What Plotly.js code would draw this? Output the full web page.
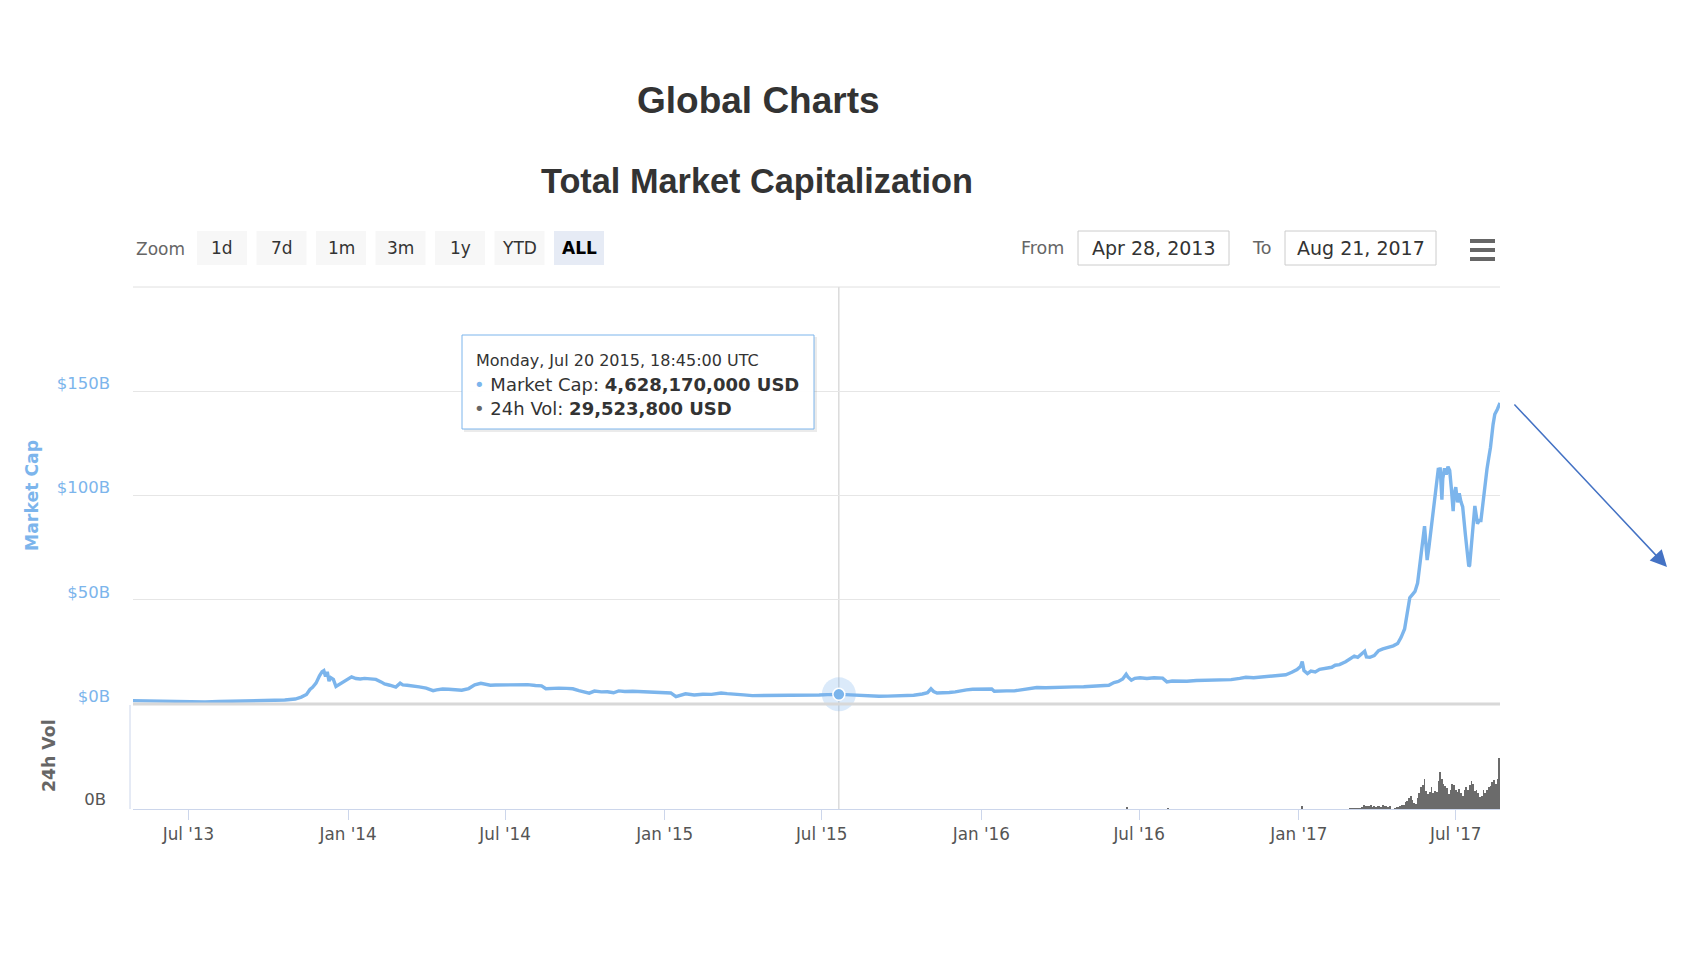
<!DOCTYPE html>
<html>
<head>
<meta charset="utf-8">
<script src="https://cdn.plot.ly/plotly-3.0.1.min.js"></script>
<style>html,body{margin:0;padding:0;background:#fff;}#chart{width:1686px;height:966px;}</style>
</head>
<body>
<div id="chart"></div>
<script>
// ---------------- DATA ----------------
const capDates = [
'2013-04-28','2013-05-10','2013-05-25','2013-06-10','2013-06-25','2013-07-05','2013-07-20','2013-08-05','2013-08-20','2013-09-05',
'2013-09-20','2013-10-05','2013-10-20','2013-11-01','2013-11-08','2013-11-14','2013-11-18','2013-11-21','2013-11-25','2013-11-29',
'2013-12-02','2013-12-04','2013-12-06','2013-12-08','2013-12-10','2013-12-12','2013-12-15','2013-12-18','2013-12-21','2013-12-25',
'2013-12-30','2014-01-05','2014-01-10','2014-01-15','2014-01-20','2014-01-26','2014-02-02','2014-02-08','2014-02-12','2014-02-18',
'2014-02-25','2014-03-02','2014-03-05','2014-03-10','2014-03-18','2014-03-24','2014-04-01','2014-04-09','2014-04-13','2014-04-20',
'2014-04-27','2014-05-05','2014-05-12','2014-05-20','2014-05-27','2014-06-03','2014-06-08','2014-06-14','2014-06-20','2014-06-27',
'2014-07-05','2014-07-12','2014-07-20','2014-07-27','2014-08-05','2014-08-12','2014-08-17','2014-08-24','2014-09-01','2014-09-10',
'2014-09-17','2014-09-24','2014-10-01','2014-10-06','2014-10-12','2014-10-20','2014-10-27','2014-11-03','2014-11-09','2014-11-16',
'2014-11-25','2014-12-05','2014-12-15','2014-12-25','2015-01-01','2015-01-08','2015-01-14','2015-01-18','2015-01-25','2015-02-04',
'2015-02-14','2015-02-24','2015-03-07','2015-03-14','2015-03-24','2015-04-02','2015-04-12','2015-04-22','2015-05-02','2015-05-12',
'2015-05-23','2015-06-05','2015-06-18','2015-06-28','2015-07-08','2015-07-14','2015-07-20','2015-07-28','2015-08-05','2015-08-18',
'2015-08-26','2015-09-05','2015-09-15','2015-09-25','2015-10-05','2015-10-15','2015-10-25','2015-10-31','2015-11-04','2015-11-07',
'2015-11-11','2015-11-17','2015-11-25','2015-12-02','2015-12-08','2015-12-15','2015-12-22','2015-12-30','2016-01-06','2016-01-13',
'2016-01-16','2016-01-23','2016-01-30','2016-02-08','2016-02-18','2016-02-26','2016-03-05','2016-03-15','2016-03-25','2016-04-05',
'2016-04-18','2016-04-28','2016-05-10','2016-05-20','2016-05-27','2016-06-02','2016-06-07','2016-06-12','2016-06-16','2016-06-18',
'2016-06-22','2016-06-26','2016-07-02','2016-07-10','2016-07-18','2016-07-28','2016-08-02','2016-08-08','2016-08-16','2016-08-25',
'2016-09-05','2016-09-15','2016-09-25','2016-10-05','2016-10-15','2016-10-25','2016-11-01','2016-11-10','2016-11-20','2016-11-30',
'2016-12-10','2016-12-17','2016-12-24','2016-12-30','2017-01-03','2017-01-05','2017-01-07','2017-01-11','2017-01-15','2017-01-20',
'2017-01-25','2017-02-01','2017-02-08','2017-02-12','2017-02-17','2017-02-24','2017-03-02','2017-03-06','2017-03-10','2017-03-14',
'2017-03-18','2017-03-20','2017-03-24','2017-03-29','2017-04-03','2017-04-08','2017-04-14','2017-04-20','2017-04-25','2017-04-29',
'2017-05-03','2017-05-06','2017-05-09','2017-05-12','2017-05-15','2017-05-18','2017-05-21','2017-05-23','2017-05-26','2017-05-27',
'2017-05-29','2017-05-31','2017-06-03','2017-06-05','2017-06-07','2017-06-09','2017-06-11','2017-06-12','2017-06-13','2017-06-15',
'2017-06-16','2017-06-18','2017-06-20','2017-06-22','2017-06-24','2017-06-26','2017-06-28','2017-06-29','2017-07-01','2017-07-03',
'2017-07-05','2017-07-07','2017-07-09','2017-07-12','2017-07-14','2017-07-16','2017-07-17','2017-07-20','2017-07-23','2017-07-26',
'2017-07-28','2017-07-30','2017-08-02','2017-08-04','2017-08-06','2017-08-08','2017-08-10','2017-08-13','2017-08-15','2017-08-18',
'2017-08-21'
];
const capValuesB = [
1.6,1.5,1.4,1.3,1.1,1.0,1.0,1.2,1.3,1.5,
1.6,1.6,1.9,2.4,3.3,4.6,7.0,8.0,10.0,13.5,
15.5,16.0,13.2,15.4,11.0,12.6,11.8,8.4,9.2,10.2,
11.2,13.0,12.2,12.0,12.3,12.0,11.8,10.6,9.6,9.0,
8.1,10.0,9.2,9.0,8.7,8.2,7.6,6.4,6.8,7.2,
7.1,6.8,6.6,7.4,9.2,9.9,9.6,9.0,9.1,9.2,
9.3,9.1,9.2,9.3,8.9,8.7,7.3,7.5,7.6,7.5,
7.3,6.4,5.6,5.2,6.2,5.8,5.9,5.4,6.3,6.0,
6.1,5.9,5.8,5.6,5.7,5.3,3.5,4.1,4.9,4.3,
4.7,4.6,5.3,5.0,4.5,4.4,4.0,4.0,4.1,4.0,
4.0,3.9,4.0,4.3,4.5,4.7,4.63,4.5,4.3,3.8,
3.7,3.7,3.8,3.8,3.9,4.2,4.8,5.4,7.3,6.0,
5.3,5.3,5.5,5.8,6.4,6.8,7.1,7.0,7.0,7.2,
6.1,6.4,6.3,6.3,7.0,7.3,7.9,7.8,7.8,7.9,
8.2,8.3,8.5,8.6,9.0,10.3,10.8,12.0,14.3,13.0,
11.4,12.3,12.6,12.2,12.6,12.4,10.6,11.0,10.9,10.9,
11.3,11.4,11.3,11.6,11.7,12.3,12.8,12.6,13.0,13.4,
13.5,14.0,15.2,16.5,18.0,20.3,16.0,14.6,15.8,15.4,
16.6,17.0,17.6,18.6,18.9,20.3,21.8,23.0,22.4,24.0,
25.3,22.6,22.4,23.2,25.6,26.4,27.0,27.9,29.0,32.0,
36.0,43.0,51.0,52.5,54.0,58.0,68.0,76.0,85.3,80.0,
69.0,75.0,84.8,92.0,99.0,104.0,113.2,110.0,113.5,98.0,
108.0,113.0,110.0,113.8,112.0,103.0,92.5,100.0,104.0,96.7,
101.0,97.0,94.5,81.6,74.0,66.0,66.5,83.2,95.0,86.5,
88.0,88.0,100.0,106.0,112.7,118.0,123.0,134.0,139.0,141.4,
144.4
];

const volDates = [
'2016-06-17','2016-08-03','2017-01-05',
'2017-03-01','2017-03-03','2017-03-05','2017-03-07','2017-03-09','2017-03-11','2017-03-13','2017-03-15','2017-03-17','2017-03-19',
'2017-03-21','2017-03-23','2017-03-25','2017-03-27','2017-03-29','2017-03-31','2017-04-02','2017-04-04','2017-04-06','2017-04-08',
'2017-04-10','2017-04-12','2017-04-14','2017-04-16','2017-04-18','2017-04-20','2017-04-22','2017-04-24','2017-04-26','2017-04-28',
'2017-04-30','2017-05-02','2017-05-04','2017-05-06','2017-05-08','2017-05-10','2017-05-12','2017-05-14','2017-05-16','2017-05-18',
'2017-05-20','2017-05-22','2017-05-24','2017-05-26','2017-05-28','2017-05-30','2017-06-01','2017-06-03','2017-06-05','2017-06-07',
'2017-06-09','2017-06-11','2017-06-13','2017-06-15','2017-06-17','2017-06-19','2017-06-21','2017-06-23','2017-06-25','2017-06-27',
'2017-06-29','2017-07-01','2017-07-03','2017-07-05','2017-07-07','2017-07-09','2017-07-11','2017-07-13','2017-07-15','2017-07-17',
'2017-07-19','2017-07-21','2017-07-23','2017-07-25','2017-07-27','2017-07-29','2017-07-31','2017-08-02','2017-08-04','2017-08-06',
'2017-08-08','2017-08-10','2017-08-12','2017-08-14','2017-08-16','2017-08-18','2017-08-20'
];
const volValuesB = [
0.25,0.20,0.35,
0.12,0.18,0.10,0.08,0.10,0.15,0.12,0.30,0.55,0.45,
0.35,0.40,0.60,0.30,0.35,0.30,0.40,0.35,0.30,0.55,
0.40,0.45,0.30,0.35,0.05,0.05,0.20,0.22,0.25,0.35,
0.50,0.60,0.90,1.10,1.50,1.80,1.20,0.80,0.70,1.50,
2.20,2.90,3.20,4.00,2.40,2.00,2.30,2.90,2.20,2.40,
2.30,3.80,5.00,4.00,3.40,3.10,2.80,2.00,2.60,3.40,
3.20,2.50,2.30,2.70,2.10,1.80,2.60,3.00,2.50,3.20,
3.80,3.30,2.40,2.60,2.10,1.60,1.80,2.50,2.20,2.60,
3.00,3.10,3.60,3.90,3.30,4.10,6.90
];

const capTickVals = [0, 50, 100, 150, 200];
const capTickText = ['$0B', '$50B', '$100B', '$150B', ''];
const volTickVals = [0];
const volTickText = ['0B'];

const zoomButtons = ['1d', '7d', '1m', '3m', '1y', 'YTD', 'ALL'];
const fromDate = 'Apr 28, 2013';
const toDate = 'Aug 21, 2017';

const hoverDate = '2015-07-20 18:45:00';
const hoverLabel = 'Monday, Jul 20 2015, 18:45:00 UTC';
const hoverCapUSD = 4628170000;
const hoverVolUSD = 29523800;

// ---------------- LAYOUT HELPERS ----------------
const PL = 133, PR = 1500, PT = 287, PB = 809;
const px = x => (x - PL) / (PR - PL);
const py = y => (PB - y) / (PB - PT);
const CAP_BOTTOM = 704, VOL_TOP = 705;

const AX_FONT = 'DejaVu Sans, Verdana, sans-serif';
const TITLE_FONT = 'Liberation Sans, Arial, Helvetica, sans-serif';

const traces = [
  {
    type: 'bar', x: volDates, y: volValuesB, xaxis: 'x', yaxis: 'y2',
    width: 2 * 86400000, marker: {color: '#6b6b6b', line: {width: 0}}, hoverinfo: 'skip'
  },
  {
    type: 'scatter', mode: 'lines', x: capDates, y: capValuesB, xaxis: 'x', yaxis: 'y',
    line: {color: '#7cb5ec', width: 3.4}, hoverinfo: 'skip'
  },
  {
    type: 'scatter', mode: 'markers', x: [hoverDate], y: [hoverCapUSD / 1e9], xaxis: 'x', yaxis: 'y',
    marker: {size: 34, color: 'rgba(124,181,236,0.28)'}, hoverinfo: 'skip', cliponaxis: false
  },
  {
    type: 'scatter', mode: 'markers', x: [hoverDate], y: [hoverCapUSD / 1e9], xaxis: 'x', yaxis: 'y',
    marker: {size: 12, color: '#7cb5ec', line: {color: '#ffffff', width: 1.5}}, hoverinfo: 'skip', cliponaxis: false
  }
];

const shapes = [];
const annotations = [];

// top border line & zero (pane separator) line
shapes.push({type: 'line', xref: 'paper', yref: 'paper', x0: 0, x1: 1, y0: 1, y1: 1, line: {color: '#e0e0e0', width: 1}});
shapes.push({type: 'line', xref: 'paper', yref: 'paper', x0: 0, x1: 1, y0: py(CAP_BOTTOM), y1: py(CAP_BOTTOM), line: {color: '#d8d8d8', width: 3}});
// vol pane left line
shapes.push({type: 'line', xref: 'paper', yref: 'paper', x0: px(130), x1: px(130), y0: 0, y1: py(VOL_TOP), line: {color: '#ccd6eb', width: 1}});
// crosshair
shapes.push({type: 'line', xref: 'x', yref: 'paper', x0: hoverDate, x1: hoverDate, y0: 0, y1: 1, line: {color: '#c8c8c8', width: 1}, layer: 'below'});

// range selector
annotations.push({xref: 'paper', yref: 'paper', x: px(134), y: py(249), xanchor: 'left', yanchor: 'middle', showarrow: false,
  text: 'Zoom', font: {family: AX_FONT, size: 17, color: '#666666'}});
zoomButtons.forEach((b, i) => {
  const x0 = 197 + i * 59.5, x1 = x0 + 50;
  const active = b === 'ALL';
  shapes.push({type: 'rect', xref: 'paper', yref: 'paper', x0: px(x0), x1: px(x1), y0: py(265), y1: py(231),
    fillcolor: active ? '#e6ebf5' : '#f7f7f7', line: {width: 0}});
  annotations.push({xref: 'paper', yref: 'paper', x: px((x0 + x1) / 2), y: py(248), xanchor: 'center', yanchor: 'middle',
    showarrow: false, text: active ? '<b>' + b + '</b>' : b, font: {family: AX_FONT, size: 17, color: active ? '#000000' : '#333333'}});
});

// date inputs
annotations.push({xref: 'paper', yref: 'paper', x: px(1066), y: py(248), xanchor: 'right', yanchor: 'middle', showarrow: false,
  text: 'From', font: {family: AX_FONT, size: 17.5, color: '#666666'}});
annotations.push({xref: 'paper', yref: 'paper', x: px(1273), y: py(248), xanchor: 'right', yanchor: 'middle', showarrow: false,
  text: 'To', font: {family: AX_FONT, size: 17.5, color: '#666666'}});
[[1078, 1229, fromDate], [1285, 1436, toDate]].forEach(([a, b, t]) => {
  shapes.push({type: 'rect', xref: 'paper', yref: 'paper', x0: px(a), x1: px(b), y0: py(265), y1: py(231),
    fillcolor: '#ffffff', line: {color: '#cccccc', width: 1}});
  annotations.push({xref: 'paper', yref: 'paper', x: px((a + b) / 2), y: py(248), xanchor: 'center', yanchor: 'middle',
    showarrow: false, text: t, font: {family: AX_FONT, size: 19, color: '#333333'}});
});
// hamburger
[241, 250, 259].forEach(y => {
  shapes.push({type: 'line', xref: 'paper', yref: 'paper', x0: px(1470), x1: px(1495), y0: py(y), y1: py(y), line: {color: '#666666', width: 4}});
});

// titles
annotations.push({xref: 'paper', yref: 'paper', x: px(758), y: py(100), xanchor: 'center', yanchor: 'middle', showarrow: false,
  text: '<b>Global Charts</b>', font: {family: TITLE_FONT, size: 37, color: '#333333'}});
annotations.push({xref: 'paper', yref: 'paper', x: px(757), y: py(181), xanchor: 'center', yanchor: 'middle', showarrow: false,
  text: '<b>Total Market Capitalization</b>', font: {family: TITLE_FONT, size: 34.3, color: '#333333'}});

// axis titles
annotations.push({xref: 'paper', yref: 'paper', x: px(32), y: py(495), xanchor: 'center', yanchor: 'middle', showarrow: false,
  textangle: -90, text: '<b>Market Cap</b>', font: {family: AX_FONT, size: 17.3, color: '#7cb5ec'}});
annotations.push({xref: 'paper', yref: 'paper', x: px(49), y: py(756), xanchor: 'center', yanchor: 'middle', showarrow: false,
  textangle: -90, text: '<b>24h Vol</b>', font: {family: AX_FONT, size: 17.3, color: '#666666'}});

// tooltip
shapes.push({type: 'rect', xref: 'paper', yref: 'paper', x0: px(464), x1: px(817), y0: py(432), y1: py(337),
  fillcolor: 'rgba(0,0,0,0.08)', line: {width: 0}});
shapes.push({type: 'rect', xref: 'paper', yref: 'paper', x0: px(462), x1: px(814), y0: py(429), y1: py(335),
  fillcolor: 'rgba(255,255,255,0.96)', line: {color: '#7cb5ec', width: 1}});
const fmt = n => n.toLocaleString('en-US');
annotations.push({xref: 'paper', yref: 'paper', x: px(474), y: py(360), xanchor: 'left', yanchor: 'middle', showarrow: false,
  text: hoverLabel, font: {family: AX_FONT, size: 16, color: '#333333'}});
annotations.push({xref: 'paper', yref: 'paper', x: px(472), y: py(384), xanchor: 'left', yanchor: 'middle', showarrow: false,
  text: '<span style="color:#7cb5ec">•</span> Market Cap: <b>' + fmt(hoverCapUSD) + ' USD</b>',
  font: {family: AX_FONT, size: 18, color: '#333333'}});
annotations.push({xref: 'paper', yref: 'paper', x: px(472), y: py(408), xanchor: 'left', yanchor: 'middle', showarrow: false,
  text: '<span style="color:#666666">•</span> 24h Vol: <b>' + fmt(hoverVolUSD) + ' USD</b>',
  font: {family: AX_FONT, size: 18, color: '#333333'}});

// arrow
annotations.push({xref: 'paper', yref: 'paper', x: px(1667), y: py(567), showarrow: true, ax: -154, ay: -164,
  text: '', arrowhead: 2, arrowsize: 2.2, arrowwidth: 1.5, arrowcolor: '#4472c4', standoff: 0, startstandoff: 0});

const layout = {
  width: 1686, height: 966,
  margin: {l: PL, r: 1686 - PR, t: PT, b: 966 - PB, pad: 0},
  paper_bgcolor: '#ffffff', plot_bgcolor: '#ffffff',
  showlegend: false, hovermode: false, bargap: 0,
  font: {family: AX_FONT, color: '#666666'},
  xaxis: {
    type: 'date', range: ['2013-04-28', '2017-08-21'], anchor: 'y2',
    tick0: '2013-07-01', dtick: 'M6', tickformat: "%b '%y",
    ticks: 'outside', ticklen: 10, tickcolor: '#ccd6eb', tickwidth: 1,
    showline: true, linecolor: '#ccd6eb', linewidth: 1, showgrid: false, zeroline: false,
    tickfont: {family: AX_FONT, size: 16.8, color: '#555555'}
  },
  yaxis: {
    domain: [py(CAP_BOTTOM), 1], range: [0, 200], anchor: 'x',
    tickmode: 'array', tickvals: capTickVals, ticktext: capTickText,
    showgrid: true, gridcolor: '#e6e6e6', gridwidth: 1, zeroline: false, showline: false,
    ticks: '', ticklabelshift: -8, ticklabelstandoff: 22,
    tickfont: {family: AX_FONT, size: 16.5, color: '#7cb5ec'}
  },
  yaxis2: {
    domain: [0, py(VOL_TOP)], range: [0, 14], anchor: 'x',
    tickmode: 'array', tickvals: volTickVals, ticktext: volTickText,
    showgrid: false, zeroline: false, showline: false,
    ticks: '', ticklabelshift: -10, ticklabelstandoff: 26,
    tickfont: {family: AX_FONT, size: 16.5, color: '#555555'}
  },
  shapes: shapes,
  annotations: annotations
};

Plotly.newPlot('chart', traces, layout, {displayModeBar: false, staticPlot: true});
</script>
</body>
</html>
